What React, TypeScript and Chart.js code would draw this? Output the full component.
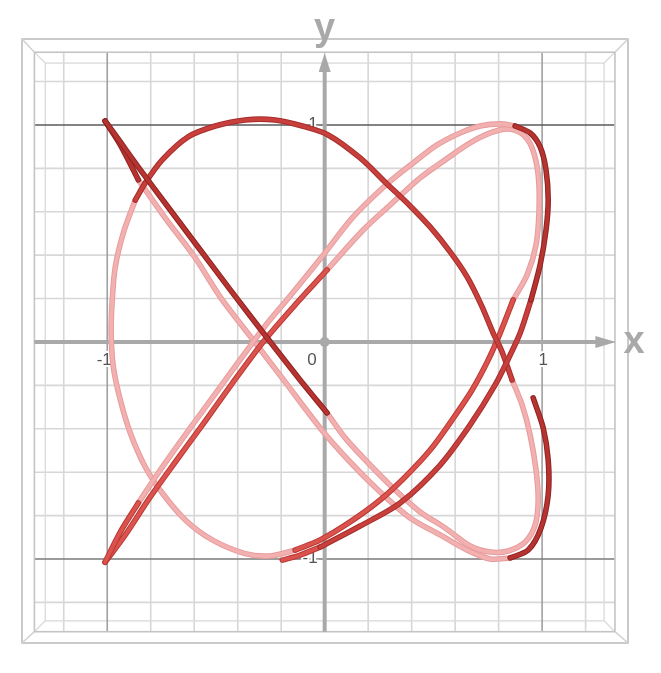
import { useEffect, useRef } from "react";
import { Chart, registerables } from "chart.js";

Chart.register(...registerables);

// Pass 1: free end near the bottom, up round the upper-right loop, down to the lower-left cusp
const pass1X = [-0.195, -0.113, -0.021, 0.163, 0.347, 0.531, 0.669, 0.784, 0.853, 0.899, 0.949, 0.991, 1.018, 1.028, 1.018, 0.991, 0.945, 0.876, 0.807, 0.715, 0.623, 0.517, 0.407, 0.287, 0.131, -0.021, -0.159, -0.274, -0.356, -0.48, -0.618, -0.756, -0.857, -0.94, -1.01];
const pass1Y = [-1.005, -0.982, -0.945, -0.848, -0.742, -0.567, -0.382, -0.198, -0.06, 0.041, 0.194, 0.355, 0.516, 0.654, 0.793, 0.899, 0.963, 0.995, 1.005, 0.995, 0.963, 0.908, 0.825, 0.728, 0.576, 0.382, 0.212, 0.074, -0.037, -0.207, -0.396, -0.59, -0.742, -0.876, -1.015];

// Pass 2: lower-left cusp, round the whole figure, to the upper-left cusp
const pass2X = [-1.01, -0.917, -0.802, -0.687, -0.572, -0.434, -0.283, -0.136, 0.011, 0.177, 0.301, 0.439, 0.554, 0.669, 0.761, 0.839, 0.908, 0.954, 0.982, 0.986, 0.972, 0.931, 0.867, 0.807, 0.752, 0.678, 0.586, 0.485, 0.37, 0.255, 0.117, -0.021, -0.136, -0.251, -0.366, -0.517, -0.641, -0.747, -0.825, -0.894, -0.94, -0.972, -0.982, -0.977, -0.963, -0.926, -0.871, -0.825, -0.747, -0.628, -0.503, -0.366, -0.228, -0.103, 0.016, 0.163, 0.287, 0.393, 0.485, 0.577, 0.655, 0.72, 0.775, 0.816, 0.862, 0.908, 0.945, 0.972, 0.982, 0.968, 0.922, 0.844, 0.761, 0.669, 0.554, 0.439, 0.324, 0.209, 0.094, 0.011, -0.113, -0.264, -0.434, -0.572, -0.71, -0.857, -0.963, -1.01];
const pass2Y = [-1.015, -0.889, -0.714, -0.553, -0.396, -0.203, 0.0, 0.171, 0.332, 0.516, 0.631, 0.756, 0.839, 0.917, 0.963, 0.982, 0.959, 0.894, 0.77, 0.608, 0.447, 0.309, 0.194, 0.041, -0.083, -0.221, -0.359, -0.498, -0.622, -0.728, -0.829, -0.912, -0.959, -0.986, -0.975, -0.912, -0.82, -0.696, -0.576, -0.419, -0.267, -0.115, 0.041, 0.194, 0.346, 0.502, 0.654, 0.733, 0.839, 0.945, 0.995, 1.023, 1.023, 0.995, 0.954, 0.848, 0.728, 0.627, 0.53, 0.415, 0.3, 0.171, 0.041, -0.046, -0.175, -0.29, -0.429, -0.59, -0.728, -0.843, -0.922, -0.963, -0.968, -0.94, -0.857, -0.783, -0.682, -0.567, -0.442, -0.327, -0.175, 0.018, 0.24, 0.424, 0.608, 0.806, 0.954, 1.018];

// Pass 3: upper-left cusp, down to the lower-right loop, free end on the right
const pass3X = [-1.01, -0.94, -0.857, -0.733, -0.595, -0.48, -0.329, -0.182, -0.021, 0.117, 0.255, 0.393, 0.531, 0.646, 0.761, 0.853, 0.936, 0.995, 1.028, 1.028, 1.005, 0.959];
const pass3Y = [1.018, 0.908, 0.747, 0.571, 0.387, 0.207, 0.009, -0.184, -0.396, -0.553, -0.691, -0.811, -0.889, -0.954, -1.0, -0.995, -0.959, -0.857, -0.705, -0.544, -0.396, -0.258];

const xTickValues = [-1, 0, 1];
const xTickLabels = ["-1", "0", "1"];
const yTickValues = [1, -1];
const yTickLabels = ["1", "-1"];
const gridValues = [-1.2, -1, -0.8, -0.6, -0.4, -0.2, 0, 0.2, 0.4, 0.6, 0.8, 1, 1.2];

// ---- styling ----
const TONE: Record<string, [string, string]> = {
  // [edge, body]
  dark: ["#8e2323", "#b7332f"],
  deep: ["#a52e2c", "#c83f3c"],
  red: ["#b93a37", "#dc524d"],
  pink: ["#e79c9c", "#f3b0b0"],
};
const TONE_ORDER = ["dark", "deep", "red", "pink"];
// [pass, fromIndex, toIndex, tone]
const SHADE_RUNS: [number, number, number, string][] = [
  [1, 0, 2, "red"],
  [1, 2, 10, "deep"],
  [1, 10, 17, "dark"],
  [1, 17, 32, "pink"],
  [1, 32, 34, "red"],
  [2, 0, 8, "red"],
  [2, 8, 22, "pink"],
  [2, 22, 32, "red"],
  [2, 32, 46, "pink"],
  [2, 46, 64, "deep"],
  [2, 64, 79, "pink"],
  [2, 79, 87, "dark"],
  [3, 0, 2, "dark"],
  [3, 2, 15, "pink"],
  [3, 15, 21, "dark"],
];

const PASSES: Record<number, [number[], number[]]> = {
  1: [pass1X, pass1Y],
  2: [pass2X, pass2Y],
  3: [pass3X, pass3Y],
};

const INNER = 1.335;
const PLANE = 1.285;
const AXIS_GREY = "#a9a9a9";

const framePlugin = {
  id: "frame3d",
  beforeDatasetsDraw(chart: any) {
    const { ctx, chartArea } = chart;
    const xs = chart.scales.x;
    const ys = chart.scales.y;
    const px = (v: number) => xs.getPixelForValue(v);
    const py = (v: number) => ys.getPixelForValue(v);
    const line = (x1: number, y1: number, x2: number, y2: number) => {
      ctx.beginPath();
      ctx.moveTo(x1, y1);
      ctx.lineTo(x2, y2);
      ctx.stroke();
    };
    ctx.save();
    const L = chartArea.left, R = chartArea.right, T = chartArea.top, B = chartArea.bottom;
    const iL = px(-INNER), iR = px(INNER), iT = py(INNER), iB = py(-INNER);
    const pL = px(-PLANE), pR = px(PLANE), pT = py(PLANE), pB = py(-PLANE);

    // light grid
    ctx.lineWidth = 1.6;
    ctx.strokeStyle = "#d7d7d7";
    for (const g of gridValues) {
      if (Math.abs(g) === 1) continue;
      line(px(g), iT, px(g), iB);
      line(iL, py(g), iR, py(g));
    }
    // plane edge
    ctx.strokeStyle = "#dcdcdc";
    ctx.lineWidth = 1.4;
    ctx.strokeRect(pL, pT, pR - pL, pB - pT);
    line(iL, iT, pL, pT);
    line(iR, iT, pR, pT);
    line(iL, iB, pL, pB);
    line(iR, iB, pR, pB);
    // integer grid lines
    ctx.lineWidth = 1.6;
    ctx.strokeStyle = "#a0a0a0";
    line(px(-1), iT, px(-1), iB);
    line(px(1), iT, px(1), iB);
    ctx.strokeStyle = "#5a5a5a";
    line(iL, py(1), iR, py(1));
    ctx.strokeStyle = "#7a7a7a";
    line(iL, py(-1), iR, py(-1));
    // box
    ctx.strokeStyle = "#c4c4c4";
    ctx.lineWidth = 1.6;
    ctx.strokeRect(iL, iT, iR - iL, iB - iT);
    ctx.strokeStyle = "#bdbdbd";
    ctx.strokeRect(L, T, R - L, B - T);
    ctx.strokeStyle = "#d2d2d2";
    line(L, T, iL, iT);
    line(R, T, iR, iT);
    line(L, B, iL, iB);
    line(R, B, iR, iB);

    // axes
    const ox = px(0), oy = py(0);
    ctx.strokeStyle = AXIS_GREY;
    ctx.fillStyle = AXIS_GREY;
    ctx.lineWidth = 4;
    const xTip = px(1.34), xBase = px(1.245);
    line(iL, oy, xBase + 1, oy);
    ctx.beginPath();
    ctx.moveTo(xTip, oy);
    ctx.lineTo(xBase, oy - 6);
    ctx.lineTo(xBase, oy + 6);
    ctx.closePath();
    ctx.fill();
    const yTip = py(1.332), yBase = py(1.244);
    line(ox, iB, ox, yBase - 1);
    ctx.beginPath();
    ctx.moveTo(ox, yTip);
    ctx.lineTo(ox - 6, yBase);
    ctx.lineTo(ox + 6, yBase);
    ctx.closePath();
    ctx.fill();
    ctx.beginPath();
    ctx.arc(ox, oy, 5, 0, Math.PI * 2);
    ctx.fill();

    // axis names
    ctx.font = "bold 38px 'Liberation Sans', Arial, sans-serif";
    ctx.textAlign = "center";
    ctx.textBaseline = "alphabetic";
    ctx.fillText("x", xTip + 18, oy + 11);
    ctx.fillText("y", ox, yTip - 13);

    // tick labels
    ctx.font = "17px 'Liberation Sans', Arial, sans-serif";
    ctx.textBaseline = "middle";
    ctx.lineWidth = 4;
    ctx.strokeStyle = "#ffffff";
    ctx.fillStyle = "#555555";
    xTickValues.forEach((v, i) => {
      let x = px(v);
      const y = oy + 18;
      if (v === 0) {
        ctx.textAlign = "right";
        x = ox - 8;
      } else {
        ctx.textAlign = "center";
        x = x + (v < 0 ? -3 : 1);
      }
      ctx.strokeText(xTickLabels[i], x, y);
      ctx.fillText(xTickLabels[i], x, y);
    });
    yTickValues.forEach((v, i) => {
      ctx.textAlign = "right";
      const x = ox - 7;
      const y = py(v) - 1;
      ctx.strokeText(yTickLabels[i], x, y);
      ctx.fillText(yTickLabels[i], x, y);
    });
    ctx.restore();
  },
};

function buildDatasets() {
  const runs = [...SHADE_RUNS].sort(
    (a, b) => TONE_ORDER.indexOf(a[3]) - TONE_ORDER.indexOf(b[3])
  );
  const out: any[] = [];
  runs.forEach(([pass, from, to, tone]) => {
    const [xs, ys] = PASSES[pass];
    const data = [];
    for (let i = from; i <= to; i++) data.push({ x: xs[i], y: ys[i] });
    const base = {
      data,
      showLine: true,
      borderCapStyle: "round" as const,
      borderJoinStyle: "round" as const,
      pointRadius: 0,
      tension: 0.3,
      fill: false,
    };
    // body on top of its darker edge
    out.push({ ...base, borderColor: TONE[tone][1], borderWidth: 3.6 });
    out.push({ ...base, borderColor: TONE[tone][0], borderWidth: 5.6 });
  });
  return out;
}

export default function App() {
  const ref = useRef<HTMLCanvasElement | null>(null);
  useEffect(() => {
    if (!ref.current) return;
    const chart = new Chart(ref.current, {
      type: "scatter",
      data: { datasets: buildDatasets() },
      options: {
        responsive: false,
        animation: false,
        devicePixelRatio: 1,
        layout: { padding: { left: 14, right: 25, top: 31, bottom: 22 } },
        plugins: { legend: { display: false }, tooltip: { enabled: false } },
        scales: {
          x: { type: "linear", min: -1.392, max: 1.395, display: false },
          y: { type: "linear", min: -1.387, max: 1.396, display: false },
        },
      },
      plugins: [framePlugin],
    });
    return () => chart.destroy();
  }, []);
  return (
    <div style={{ width: 645, height: 657 }}>
      <canvas ref={ref} width={645} height={657} style={{ display: "block" }} />
    </div>
  );
}
